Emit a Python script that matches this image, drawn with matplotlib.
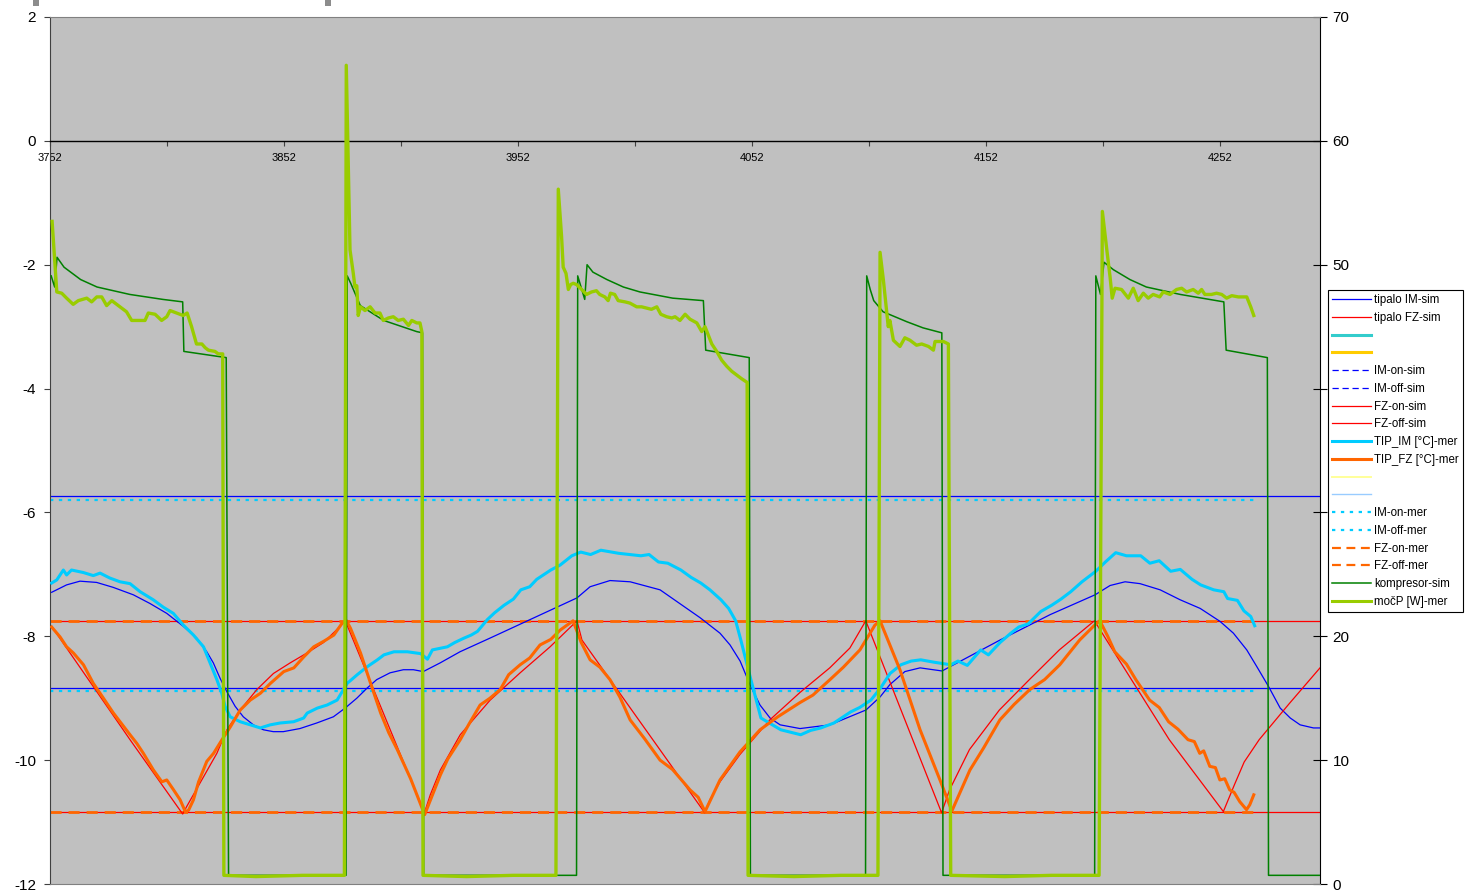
import matplotlib
matplotlib.use("Agg")
import matplotlib.pyplot as plt
from matplotlib.lines import Line2D
from matplotlib.patches import Rectangle
import numpy as np

plt.rcParams["font.family"] = ["Liberation Sans", "DejaVu Sans"]
plt.rcParams["axes.unicode_minus"] = False

# time axis
T0, T_SIM_END, T_MER_END = 3752, 4294.7, 4267.0

# tipalo IM-sim [°C]
t_im_sim = [3752.7, 3759.1, 3764.8, 3771.9, 3779.0, 3787.6, 3794.7, 3801.9, 3809.0, 3814.7,
            3819.0, 3821.8, 3824.7, 3827.5, 3831.1, 3834.6, 3838.9, 3843.2, 3847.4, 3851.7,
            3858.8, 3866.0, 3873.1, 3878.1, 3883.1, 3887.4, 3891.6, 3897.3, 3903.0, 3907.3,
            3911.5, 3918.7, 3927.2, 3940.0, 3977.2, 3982.8, 3991.3, 3999.9, 4012.7, 4029.8,
            4038.3, 4042.6, 4046.9, 4051.1, 4055.4, 4059.7, 4064.0, 4072.5, 4085.3, 4100.7,
            4106.7, 4110.9, 4117.3, 4123.8, 4133.2, 4158.0, 4179.4, 4198.6, 4205.0, 4211.4,
            4217.8, 4226.4, 4234.9, 4243.5, 4252.0, 4257.7, 4263.4, 4267.7, 4272.7, 4277.7,
            4282.0, 4286.2, 4291.9, 4294.7]
im_sim = [-7.29, -7.17, -7.11, -7.13, -7.21, -7.33, -7.47, -7.63, -7.84, -8.03,
          -8.25, -8.43, -8.68, -8.89, -9.13, -9.30, -9.43, -9.51, -9.54, -9.54,
          -9.49, -9.40, -9.30, -9.16, -9.00, -8.84, -8.70, -8.59, -8.54, -8.54,
          -8.57, -8.43, -8.25, -8.03, -7.38, -7.20, -7.10, -7.12, -7.25, -7.70,
          -7.95, -8.14, -8.40, -8.78, -9.11, -9.32, -9.43, -9.49, -9.43, -9.19,
          -8.98, -8.78, -8.57, -8.51, -8.56, -8.06, -7.65, -7.33, -7.18, -7.12,
          -7.15, -7.25, -7.41, -7.55, -7.76, -7.95, -8.22, -8.49, -8.81, -9.16,
          -9.32, -9.43, -9.48, -9.48]

# tipalo FZ-sim [°C]
t_fz_sim = [3752.7, 3786.2, 3808.7, 3810.4, 3816.1, 3823.3, 3827.6, 3833.3, 3840.4, 3847.5,
            3854.6, 3861.8, 3868.9, 3876.0, 3878.2, 3912.0, 3914.5, 3918.8, 3927.3, 3940.1,
            3952.9, 3965.7, 3977.2, 3979.3, 4031.8, 4034.0, 4038.3, 4046.8, 4059.6, 4072.4,
            4085.2, 4093.8, 4100.6, 4133.0, 4136.4, 4144.9, 4157.7, 4170.5, 4183.3, 4198.3,
            4230.3, 4253.4, 4258.1, 4262.3, 4268.7, 4281.5, 4294.7]
fz_sim = [-7.84, -9.67, -10.87, -10.75, -10.37, -9.89, -9.51, -9.19, -8.86, -8.60,
          -8.43, -8.27, -8.10, -7.84, -7.75, -10.85, -10.56, -10.16, -9.59, -9.03,
          -8.59, -8.17, -7.75, -8.06, -10.85, -10.64, -10.35, -9.91, -9.35, -8.91,
          -8.51, -8.19, -7.75, -10.85, -10.48, -9.83, -9.19, -8.70, -8.22, -7.75,
          -9.67, -10.83, -10.40, -10.03, -9.67, -9.09, -8.51]

# TIP_IM [°C]-mer
t_im_mer = [3752.7, 3754.9, 3757.7, 3759.1, 3761.2, 3766.2, 3770.5, 3773.4, 3777.6, 3781.9,
            3786.2, 3790.5, 3796.1, 3800.4, 3804.7, 3809.0, 3813.3, 3817.6, 3820.4, 3823.3,
            3825.4, 3826.8, 3829.0, 3833.3, 3837.6, 3841.9, 3846.1, 3850.4, 3856.1, 3860.4,
            3861.9, 3866.2, 3870.4, 3874.7, 3879.0, 3883.3, 3887.6, 3891.9, 3894.7, 3899.0,
            3904.7, 3910.4, 3913.3, 3915.4, 3921.8, 3925.0, 3928.9, 3932.0, 3934.7, 3938.9,
            3942.0, 3946.0, 3950.0, 3953.2, 3957.0, 3960.0, 3966.0, 3970.0, 3975.0, 3978.8,
            3983.0, 3987.4, 3995.0, 4004.5, 4008.0, 4012.0, 4016.0, 4021.6, 4026.0, 4030.1,
            4034.0, 4038.7, 4042.0, 4045.0, 4047.2, 4051.5, 4055.8, 4064.3, 4072.8, 4077.0,
            4081.4, 4087.0, 4094.2, 4098.0, 4102.8, 4107.0, 4111.0, 4115.6, 4120.0, 4124.1,
            4130.0, 4136.9, 4140.0, 4144.0, 4149.7, 4153.0, 4158.0, 4162.6, 4166.0, 4170.0,
            4175.4, 4180.0, 4184.0, 4188.2, 4193.0, 4198.9, 4203.0, 4207.4, 4212.0, 4218.1,
            4222.0, 4226.0, 4230.9, 4235.0, 4240.0, 4243.7, 4249.3, 4253.6, 4255.2, 4259.4,
            4262.2, 4265.1, 4266.8]
im_mer = [-7.14, -7.09, -6.93, -7.01, -6.93, -6.97, -7.02, -6.98, -7.06, -7.12,
          -7.15, -7.28, -7.41, -7.53, -7.63, -7.82, -7.98, -8.17, -8.43, -8.70,
          -8.92, -9.13, -9.30, -9.38, -9.43, -9.48, -9.43, -9.40, -9.38, -9.32,
          -9.24, -9.16, -9.11, -9.03, -8.76, -8.62, -8.49, -8.38, -8.30, -8.25,
          -8.25, -8.28, -8.37, -8.22, -8.17, -8.10, -8.03, -7.98, -7.92, -7.73,
          -7.62, -7.50, -7.40, -7.25, -7.20, -7.08, -6.93, -6.85, -6.70, -6.64,
          -6.68, -6.61, -6.66, -6.70, -6.68, -6.80, -6.82, -6.93, -7.05, -7.14,
          -7.25, -7.41, -7.55, -7.75, -8.06, -8.70, -9.32, -9.51, -9.59, -9.52,
          -9.48, -9.40, -9.22, -9.15, -9.03, -8.83, -8.60, -8.46, -8.40, -8.38,
          -8.42, -8.46, -8.40, -8.47, -8.22, -8.30, -8.10, -7.95, -7.85, -7.80,
          -7.60, -7.50, -7.40, -7.28, -7.12, -6.95, -6.80, -6.65, -6.70, -6.70,
          -6.82, -6.78, -6.95, -6.92, -7.08, -7.17, -7.25, -7.28, -7.39, -7.42,
          -7.59, -7.68, -7.83]

# TIP_FZ [°C]-mer
t_fz_mer = [3752.7, 3756.3, 3759.1, 3762.0, 3766.3, 3770.5, 3773.4, 3779.1, 3786.2, 3789.1,
            3791.9, 3796.2, 3799.8, 3801.9, 3804.8, 3807.6, 3809.8, 3811.2, 3813.3, 3815.5,
            3819.0, 3821.9, 3825.5, 3829.1, 3833.3, 3837.6, 3841.9, 3846.2, 3851.9, 3856.2,
            3860.5, 3864.7, 3869.0, 3873.3, 3876.8, 3878.7, 3880.4, 3884.7, 3889.0, 3893.3,
            3896.8, 3900.4, 3906.1, 3912.1, 3918.8, 3922.0, 3927.3, 3931.0, 3935.8, 3940.0,
            3944.4, 3948.0, 3952.9, 3957.0, 3961.4, 3966.0, 3970.0, 3975.5, 3979.0, 3982.8,
            3987.0, 3991.3, 3995.5, 3999.9, 4006.0, 4012.7, 4018.0, 4025.5, 4029.0, 4031.9,
            4038.3, 4046.8, 4055.4, 4063.0, 4072.5, 4078.0, 4085.3, 4091.0, 4098.1, 4104.5,
            4106.7, 4115.2, 4123.8, 4132.3, 4137.4, 4145.1, 4151.0, 4157.9, 4164.0, 4170.7,
            4177.0, 4183.5, 4192.0, 4198.4, 4200.6, 4204.0, 4207.0, 4212.0, 4216.0, 4221.9,
            4226.0, 4230.0, 4234.0, 4238.3, 4241.0, 4243.3, 4245.0, 4247.6, 4250.0, 4251.9,
            4254.0, 4256.1, 4258.0, 4260.4, 4263.3, 4264.7, 4266.4]
fz_mer = [-7.85, -8.01, -8.17, -8.27, -8.46, -8.76, -8.92, -9.24, -9.59, -9.73,
          -9.89, -10.16, -10.35, -10.32, -10.48, -10.64, -10.83, -10.81, -10.64, -10.35,
          -10.02, -9.89, -9.67, -9.46, -9.19, -9.03, -8.92, -8.76, -8.57, -8.51,
          -8.33, -8.17, -8.08, -7.98, -7.79, -7.75, -7.87, -8.27, -8.76, -9.24,
          -9.56, -9.83, -10.30, -10.88, -10.24, -9.98, -9.67, -9.42, -9.11, -9.00,
          -8.86, -8.62, -8.46, -8.35, -8.14, -8.05, -7.90, -7.75, -8.10, -8.38,
          -8.50, -8.70, -8.98, -9.35, -9.65, -10.00, -10.15, -10.48, -10.60, -10.83,
          -10.32, -9.87, -9.51, -9.30, -9.07, -8.95, -8.70, -8.50, -8.22, -7.82,
          -7.75, -8.54, -9.51, -10.32, -10.82, -10.16, -9.80, -9.35, -9.10, -8.86,
          -8.70, -8.46, -8.06, -7.82, -7.75, -8.00, -8.25, -8.45, -8.70, -9.03,
          -9.15, -9.38, -9.50, -9.67, -9.70, -9.89, -9.85, -10.10, -10.12, -10.32,
          -10.30, -10.48, -10.52, -10.67, -10.80, -10.72, -10.56]

# switching thresholds [°C]
im_on_sim, im_off_sim = -5.73, -8.83
fz_on_sim, fz_off_sim = -7.75, -10.83
im_on_mer, im_off_mer = -5.80, -8.89
fz_on_mer, fz_off_mer = -7.75, -10.83

# kompresor-sim [W]
t_komp = [3752.5, 3754.0, 3755.0, 3758.0, 3765.1, 3772.1, 3786.1, 3800.2, 3808.7, 3809.2,
          3827.3, 3828.3, 3878.5, 3879.0, 3880.5, 3884.6, 3894.6, 3908.7, 3911.2, 3911.7,
          3977.0, 3977.5, 3980.5, 3981.5, 3984.0, 3990.0, 3997.0, 4004.1, 4018.1, 4031.2,
          4032.2, 4050.8, 4051.3, 4100.5, 4101.0, 4102.5, 4104.0, 4108.0, 4118.1, 4125.1,
          4133.1, 4133.6, 4198.4, 4198.9, 4200.9, 4202.4, 4206.4, 4213.5, 4220.5, 4235.0,
          4253.6, 4254.6, 4272.2, 4272.7, 4294.7]
komp = [49.1, 48.2, 50.6, 49.8, 48.8, 48.2, 47.6, 47.2, 47.0, 43.0,
        42.5, 0.7, 0.7, 49.1, 48.5, 46.7, 45.5, 44.6, 44.5, 0.7,
        0.7, 49.1, 47.2, 50.0, 49.4, 48.8, 48.2, 47.8, 47.3, 47.1,
        43.1, 42.5, 0.7, 0.7, 49.1, 48.0, 47.1, 46.2, 45.4, 44.9,
        44.5, 0.7, 0.7, 49.1, 47.6, 50.2, 49.6, 48.8, 48.2, 47.6,
        47.0, 43.1, 42.5, 0.7, 0.7]

# močP [W]-mer
t_mocp = [3752.9, 3754.9, 3757.0, 3759.1, 3761.9, 3764.1, 3767.7, 3769.8, 3772.0, 3774.1,
          3776.2, 3778.4, 3781.2, 3784.7, 3786.9, 3789.8, 3792.6, 3794.0, 3796.9, 3799.7,
          3801.9, 3803.3, 3806.1, 3808.9, 3810.6, 3812.5, 3814.6, 3816.9, 3818.3, 3819.7,
          3822.5, 3823.9, 3825.8, 3826.3, 3840.0, 3860.0, 3877.8,
          3878.6, 3880.2, 3881.6, 3882.3, 3883.1, 3883.7, 3884.7, 3886.6, 3888.8, 3890.9,
          3893.0, 3894.4, 3896.6, 3898.7, 3900.8, 3903.0, 3905.2, 3906.6, 3908.7, 3910.1,
          3910.9, 3911.4, 3930.0, 3950.0, 3968.2,
          3969.2, 3970.6, 3971.3, 3972.5, 3973.5, 3974.5, 3975.6, 3977.0, 3979.2, 3981.3,
          3983.4, 3985.5, 3986.9, 3989.1, 3990.5, 3991.5, 3993.3, 3994.8, 3997.7, 3999.8,
          4002.7, 4004.8, 4006.9, 4009.0, 4011.3, 4013.0, 4015.5, 4017.7, 4019.1, 4021.2,
          4023.4, 4025.5, 4028.4, 4030.5, 4031.9, 4034.8, 4036.9, 4039.0, 4041.2, 4043.3,
          4045.4, 4047.5, 4049.9, 4050.3, 4070.0, 4090.0, 4105.8,
          4106.7, 4108.1, 4109.5, 4110.2, 4110.9, 4112.4, 4115.2, 4117.3, 4119.5, 4122.3,
          4124.5, 4127.4, 4129.5, 4130.2, 4133.8, 4135.9, 4136.9, 4160.0, 4180.0, 4200.3,
          4201.7, 4203.6, 4205.0, 4205.9, 4207.1, 4209.9, 4212.8, 4214.9, 4217.0, 4219.2,
          4221.3, 4223.4, 4226.2, 4227.7, 4230.6, 4233.4, 4235.6, 4237.7, 4240.5, 4242.7,
          4244.1, 4245.5, 4248.3, 4250.5, 4252.7, 4254.8, 4257.0, 4259.8, 4263.4, 4265.1,
          4266.4]
mocp = [53.5, 47.8, 47.7, 47.3, 46.8, 47.1, 47.3, 47.0, 47.4, 47.4,
        46.7, 47.1, 46.7, 46.2, 45.5, 45.5, 45.5, 46.1, 46.0, 45.5,
        45.8, 46.3, 46.1, 45.9, 46.1, 45.0, 43.6, 43.6, 43.3, 43.1,
        43.0, 42.8, 42.8, 0.7, 0.6, 0.7, 0.7,
        66.1, 51.2, 49.3, 48.2, 48.3, 45.9, 46.6, 46.3, 46.6, 46.1,
        46.1, 45.5, 45.7, 45.8, 45.5, 45.6, 45.1, 45.5, 45.3, 45.3,
        44.6, 0.7, 0.6, 0.7, 0.7,
        56.1, 52.3, 49.8, 49.3, 48.0, 48.4, 48.5, 48.4, 48.0, 47.6,
        47.8, 47.9, 47.6, 47.4, 47.1, 47.7, 47.6, 47.1, 47.0, 46.9,
        46.6, 46.6, 46.5, 46.4, 46.6, 46.0, 45.8, 45.7, 45.8, 45.5,
        46.0, 45.6, 45.3, 44.6, 45.0, 43.6, 43.0, 42.3, 41.8, 41.4,
        41.1, 40.8, 40.5, 0.7, 0.6, 0.7, 0.7,
        51.0, 48.8, 46.3, 45.0, 45.5, 43.9, 43.4, 44.1, 43.9, 43.5,
        43.6, 43.4, 43.1, 43.8, 43.8, 43.6, 0.7, 0.6, 0.7, 0.7,
        54.3, 51.2, 49.0, 47.3, 48.1, 48.0, 47.3, 48.1, 47.1, 47.7,
        47.3, 47.6, 47.4, 47.8, 47.6, 48.0, 48.1, 47.8, 48.0, 47.7,
        48.0, 47.6, 47.6, 47.7, 47.6, 47.3, 47.5, 47.4, 47.4, 46.6,
        45.9]

BLUE = "#0000FF"; RED = "#FF0000"; CYAN = "#00CCFF"; ORANGE = "#FF6600"
DKGREEN = "#008000"; LIME = "#99CC00"; BG = "#C0C0C0"
DOT = (0, (1.5, 2.5)); DASH = (0, (4, 2.5))

fig = plt.figure(figsize=(14.7, 8.93), dpi=100)
ax = fig.add_axes([50 / 1470, 9 / 893, 1270 / 1470, 867 / 893])
ax.set_facecolor(BG)
ax.set_xlim(T0, T_SIM_END)
ax.set_ylim(-12, 2)

# simulated sensor temperatures
ax.plot(t_im_sim, im_sim, color=BLUE, lw=0.9, zorder=3)
ax.plot(t_fz_sim, fz_sim, color=RED, lw=0.9, zorder=3)

# thresholds
for lvl in (im_on_sim, im_off_sim):
    ax.plot([T0, T_SIM_END], [lvl, lvl], color=BLUE, lw=0.9, zorder=2)
for lvl in (fz_on_sim, fz_off_sim):
    ax.plot([T0, T_SIM_END], [lvl, lvl], color=RED, lw=0.9, zorder=2)
for lvl in (im_on_mer, im_off_mer):
    ax.plot([T0, T_MER_END], [lvl, lvl], color=CYAN, lw=1.6, ls=DOT, zorder=2)
for lvl in (fz_on_mer, fz_off_mer):
    ax.plot([T0, T_MER_END], [lvl, lvl], color=ORANGE, lw=2.0, ls=DASH, zorder=2)

# measured sensor temperatures
ax.plot(t_im_mer, im_mer, color=CYAN, lw=2.2, zorder=4)
ax.plot(t_fz_mer, fz_mer, color=ORANGE, lw=2.2, zorder=4)

# left axis, category axis crossing at 0
ax.set_yticks(np.arange(-12, 3, 2))
ax.tick_params(axis="y", direction="out", length=4, width=0.8, color="#404040",
               labelsize=11, pad=6)
for s in ("top", "right"):
    ax.spines[s].set_visible(False)
ax.spines["left"].set_color("#404040")
ax.spines["bottom"].set_position(("data", 0))
ax.spines["bottom"].set_color("black")
ax.spines["bottom"].set_linewidth(1.0)
ticks = list(range(T0, 4295, 50))
ax.set_xticks(ticks)
ax.set_xticklabels([str(v) if (v - T0) % 100 == 0 else "" for v in ticks])
ax.tick_params(axis="x", direction="out", length=3.5, width=0.8, color="#404040",
               labelsize=8, pad=5.5)

# power on right axis
ax2 = ax.twinx()
ax2.set_ylim(0, 70)
ax2.plot(t_komp, komp, color=DKGREEN, lw=1.1, zorder=3)
ax2.plot(t_mocp, mocp, color=LIME, lw=2.4, zorder=4)
ax2.set_yticks(np.arange(0, 71, 10))
ax2.tick_params(axis="y", direction="inout", length=10, width=0.8, color="black",
                labelsize=11, pad=4)
ax2.spines["left"].set_visible(False)
ax2.spines["right"].set_color("black")
ax2.spines["top"].set_color("#808080")
ax2.spines["bottom"].set_color("#808080")

labels = ["tipalo IM-sim", "tipalo FZ-sim", "", "", "IM-on-sim", "IM-off-sim",
          "FZ-on-sim", "FZ-off-sim", "TIP_IM [°C]-mer", "TIP_FZ [°C]-mer", "", "",
          "IM-on-mer", "IM-off-mer", "FZ-on-mer", "FZ-off-mer", "kompresor-sim", "močP [W]-mer"]
handles = [
    Line2D([], [], color=BLUE, lw=0.9),
    Line2D([], [], color=RED, lw=0.9),
    Line2D([], [], color="#33CCCC", lw=2.2),
    Line2D([], [], color="#FFCC00", lw=2.2),
    Line2D([], [], color=BLUE, lw=0.9, ls=(0, (5, 3))),
    Line2D([], [], color=BLUE, lw=0.9, ls=(0, (5, 3))),
    Line2D([], [], color=RED, lw=0.9),
    Line2D([], [], color=RED, lw=0.9),
    Line2D([], [], color=CYAN, lw=2.2),
    Line2D([], [], color=ORANGE, lw=2.2),
    Line2D([], [], color="#FFFF99", lw=1.4),
    Line2D([], [], color="#99CCFF", lw=1.0),
    Line2D([], [], color=CYAN, lw=1.6, ls=DOT),
    Line2D([], [], color=CYAN, lw=1.6, ls=DOT),
    Line2D([], [], color=ORANGE, lw=1.6, ls=DASH),
    Line2D([], [], color=ORANGE, lw=1.6, ls=DASH),
    Line2D([], [], color=DKGREEN, lw=1.1),
    Line2D([], [], color=LIME, lw=2.2),
]
leg = fig.legend(handles, labels, loc="upper left", bbox_to_anchor=(1328 / 1470, 603 / 893),
                 fontsize=8.3, frameon=True, fancybox=False, framealpha=1, edgecolor="black",
                 handlelength=3.4, handletextpad=0.25, labelspacing=0.5, borderpad=0.35,
                 borderaxespad=0)
leg.get_frame().set_linewidth(0.8)

# bits of grey framing at the top edge
for x0 in (33, 325):
    fig.add_artist(Rectangle((x0 / 1470, 887 / 893), 6 / 1470, 6 / 893,
                             transform=fig.transFigure, color="#8C8C8C", lw=0))

fig.savefig("out.png", dpi=100, facecolor="white")
